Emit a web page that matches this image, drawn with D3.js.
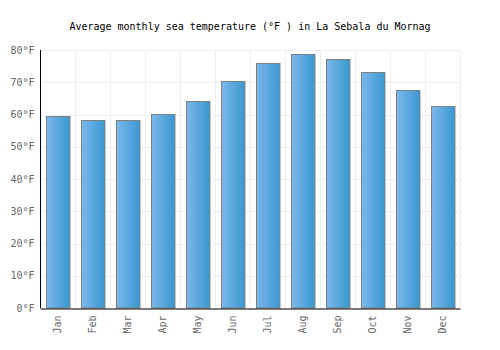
<!DOCTYPE html>
<html lang="en">
<head>
  <meta charset="UTF-8">
  <title>Average monthly sea temperature</title>
  <style>
    body { margin: 0; background: #fff; }
    text { font-family: "DejaVu Sans Mono", monospace; }
  </style>
</head>
<body>
  <script src="https://cdn.jsdelivr.net/npm/d3@7"></script>
  <script>
    const months = ['Jan', 'Feb', 'Mar', 'Apr', 'May', 'Jun', 'Jul', 'Aug', 'Sep', 'Oct', 'Nov', 'Dec'];
    const seaTemp = [59.4, 58.2, 58.2, 60.2, 64.1, 70.3, 75.9, 78.7, 77.1, 73.1, 67.5, 62.5];
    const yTicks = [0, 10, 20, 30, 40, 50, 60, 70, 80];

    const width = 500, height = 350;
    const margin = {top: 50, right: 40, bottom: 42, left: 40};

    const svg = d3.select('body').append('svg')
      .attr('width', width)
      .attr('height', height);

    const defs = svg.append('defs');
    const grad = defs.append('linearGradient')
      .attr('id', 'barGrad')
      .attr('x1', '0%').attr('x2', '100%').attr('y1', '0%').attr('y2', '0%');
    grad.append('stop').attr('offset', '0%').attr('stop-color', '#7db8ea');
    grad.append('stop').attr('offset', '100%').attr('stop-color', '#3897d1');

    const x = d3.scaleBand()
      .domain(months)
      .range([margin.left, width - margin.right])
      .paddingInner(0.33)
      .paddingOuter(0.165);

    const xGrid = d3.scaleBand()
      .domain(months)
      .range([margin.left, width - margin.right]);

    const y = d3.scaleLinear()
      .domain([0, 80])
      .range([height - margin.bottom, margin.top]);

    // grid
    const grid = svg.append('g').attr('class', 'grid');
    grid.selectAll('line.h').data(yTicks).enter().append('line')
      .attr('class', 'h')
      .attr('x1', margin.left).attr('x2', width - margin.right)
      .attr('y1', d => Math.round(y(d)) + 0.5).attr('y2', d => Math.round(y(d)) + 0.5)
      .attr('stroke', '#eeeeee');
    grid.selectAll('line.v').data(months).enter().append('line')
      .attr('class', 'v')
      .attr('x1', (d, i) => Math.round(xGrid(d) + xGrid.step()) + 0.5)
      .attr('x2', (d, i) => Math.round(xGrid(d) + xGrid.step()) + 0.5)
      .attr('y1', margin.top).attr('y2', height - margin.bottom)
      .attr('stroke', '#eeeeee');

    // bars
    svg.append('g').selectAll('rect').data(seaTemp).enter().append('rect')
      .attr('x', (d, i) => Math.round(x(months[i])) + 0.5)
      .attr('y', d => Math.round(y(d)) + 0.5)
      .attr('width', x.bandwidth())
      .attr('height', d => y(0) - Math.round(y(d)) - 0.5)
      .attr('fill', 'url(#barGrad)')
      .attr('stroke', '#7f7f7f')
      .attr('stroke-width', 1);

    // axes
    const yAxis = svg.append('g')
      .attr('transform', `translate(${margin.left + 0.5},0)`)
      .call(d3.axisLeft(y).tickValues(yTicks).tickSize(0).tickFormat(d => d + '°F'));
    yAxis.select('.domain').remove();
    yAxis.selectAll('.tick text')
      .attr('fill', '#666')
      .attr('x', -6)
      .style('font-size', '10px')
      .style('font-family', '"DejaVu Sans Mono", monospace');

    svg.append('line')
      .attr('x1', margin.left + 0.5).attr('x2', margin.left + 0.5)
      .attr('y1', margin.top).attr('y2', height - margin.bottom)
      .attr('stroke', '#000');

    const xAxis = svg.append('g')
      .attr('transform', `translate(0,${height - margin.bottom + 0.5})`)
      .call(d3.axisBottom(xGrid).tickSize(0));
    xAxis.select('.domain').attr('stroke', '#000');
    xAxis.selectAll('.tick text')
      .attr('fill', '#666')
      .attr('transform', 'rotate(-90)')
      .attr('text-anchor', 'end')
      .attr('x', -7)
      .attr('y', 0)
      .attr('dy', '0.35em')
      .style('font-size', '10px')
      .style('font-family', '"DejaVu Sans Mono", monospace');

    // title
    svg.append('text')
      .attr('x', width / 2)
      .attr('y', 30)
      .attr('text-anchor', 'middle')
      .attr('fill', '#000')
      .style('font-size', '10px')
      .text('Average monthly sea temperature (°F ) in La Sebala du Mornag');
  </script>
</body>
</html>
